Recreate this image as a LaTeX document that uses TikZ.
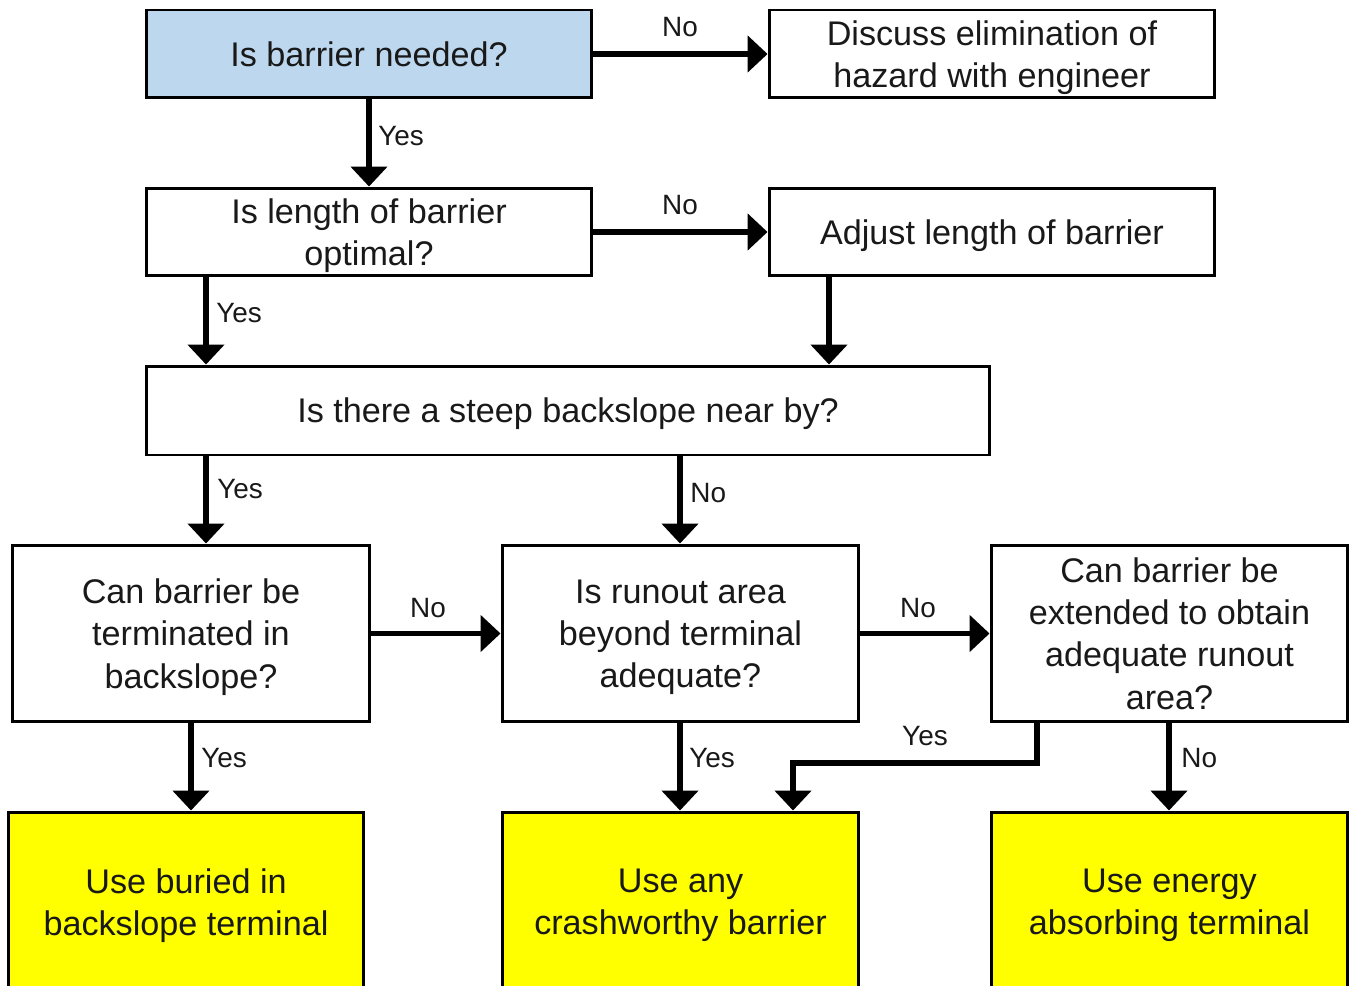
\documentclass[tikz,border=0pt]{standalone}
\usepackage{fontspec}
\setmainfont{Liberation Sans}
\usetikzlibrary{arrows.meta}
\definecolor{qblue}{HTML}{BDD7EE}
\definecolor{qyellow}{HTML}{FFFF00}
\begin{document}
\begin{tikzpicture}[x=0.02cm,y=-0.02cm,
  box/.style={draw=black, line width=1.7pt, fill=white, align=center, inner sep=0pt,
    text depth=0pt, font=\fontsize{19.45}{24}\selectfont, text=black!90},
  wide/.style={minimum width=8.92cm, minimum height=1.76cm},
  tall/.style={minimum width=7.14cm, minimum height=3.54cm},
  ybox/.style={box, fill=qyellow, minimum width=7.14cm, minimum height=3.6cm},
  lbl/.style={inner sep=0pt, font=\fontsize{15.9}{19}\selectfont, text=black!90},
  arr/.style={line width=3.4pt, -{Triangle[length=0.4cm,width=0.72cm]}}
]
\fill[white] (0,0) rectangle (1351,986);
\useasboundingbox (0,0) rectangle (1351,986);

\node[box, wide, fill=qblue] (b1) at (369,54) {Is barrier needed?};
\node[box, wide] (b2) at (992,54) {Discuss elimination of\\hazard with engineer};
\node[box, wide] (b3) at (369,232) {Is length of barrier\\optimal?};
\node[box, wide] (b4) at (992,232) {Adjust length of barrier};
\node[box, minimum width=16.88cm, minimum height=1.78cm] (b5) at (568,410.5) {Is there a steep backslope near by?};
\node[box, tall, minimum width=7.16cm] (b6) at (191,633.5) {Can barrier be\\terminated in\\backslope?};
\node[box, tall] (b7) at (680.5,633.5) {Is runout area\\beyond terminal\\adequate?};
\node[box, tall] (b8) at (1169.5,633.5) {Can barrier be\\extended to obtain\\adequate runout\\area?};
\node[ybox, minimum width=7.12cm] (b9) at (186,902) {Use buried in\\backslope terminal};
\node[ybox] (b10) at (680.5,902) {Use any\\crashworthy barrier};
\node[ybox] (b11) at (1169.5,902) {Use energy\\absorbing terminal};

\coordinate (x206) at (206,0);
\coordinate (x829) at (829,0);
\coordinate (x680) at (680,0);
\coordinate (x191) at (191,0);
\coordinate (x1169) at (1169,0);
\coordinate (c0) at (1037,763);
\coordinate (c1) at (793,763);

\draw[arr] (b1.east) -- (b2.west);
\draw[arr] (b1.south) -- (b3.north);
\draw[arr] (b3.east) -- (b4.west);
\draw[arr] (b3.south -| x206) -- (b5.north -| x206);
\draw[arr] (b4.south -| x829) -- (b5.north -| x829);
\draw[arr] (b5.south -| x206) -- (b6.north -| x206);
\draw[arr] (b5.south -| x680) -- (b7.north -| x680);
\draw[arr] (b6.east) -- (b7.west);
\draw[arr] (b7.east) -- (b8.west);
\draw[arr] (b6.south -| x191) -- (b9.north -| x191);
\draw[arr] (b7.south -| x680) -- (b10.north -| x680);
\draw[arr] (b8.south -| x1169) -- (b11.north -| x1169);
\draw[arr, line join=miter] (b8.south -| c0) |- (c1) -- (c1 |- b10.north);

\node[lbl] (l1) at (680,27) {No};
\node[lbl, anchor=west] (l2) at (378,136) {Yes};
\node[lbl] (l3) at (680,205) {No};
\node[lbl, anchor=west] (l4) at (216,313) {Yes};
\node[lbl, anchor=west] (l5) at (217,489) {Yes};
\node[lbl, anchor=west] (l6) at (690,493) {No};
\node[lbl] (l7) at (428,608) {No};
\node[lbl] (l8) at (918,608) {No};
\node[lbl, anchor=west] (l9) at (201,758) {Yes};
\node[lbl, anchor=west] (l10) at (689,758) {Yes};
\node[lbl] (l11) at (925,736) {Yes};
\node[lbl, anchor=west] (l12) at (1181,758) {No};
\end{tikzpicture}
\end{document}
